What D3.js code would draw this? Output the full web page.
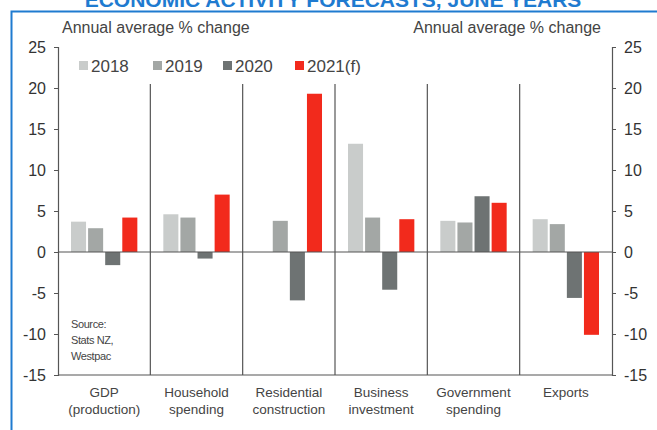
<!DOCTYPE html>
<html>
<head>
<meta charset="utf-8">
<script src="https://cdn.jsdelivr.net/npm/d3@7"></script>
<style>
  body { margin: 0; background: #fff; overflow: hidden; }
  text { font-family: "Liberation Sans", Arial, sans-serif; }
</style>
</head>
<body>
<div id="chart"></div>
<script>
let categories = [["GDP", "(production)"], ["Household", "spending"], ["Residential", "construction"],
    ["Business", "investment"], ["Government", "spending"], ["Exports"]];
let seriesNames = ['2018', '2019', '2020', '2021(f)'];
let seriesColors = ['#c9cccb', '#a3a7a5', '#6e7373', '#f22a1c'];
let values2018 = [3.7, 4.6, null, 13.2, 3.8, 4.0];
let values2019 = [2.9, 4.2, 3.8, 4.2, 3.6, 3.4];
let values2020 = [-1.6, -0.8, -5.9, -4.6, 6.8, -5.6];
let values2021 = [4.2, 7.0, 19.3, 4.0, 6.0, -10.1];
let yTicks = [-15, -10, -5, 0, 5, 10, 15, 20, 25];

let allValues = [values2018, values2019, values2020, values2021];

let totalWidth = 657;
let totalHeight = 430;
let margin = { top: 47, right: 45, bottom: 55, left: 58 };
let innerWidth = totalWidth - margin.left - margin.right;
let innerHeight = totalHeight - margin.top - margin.bottom;

let svg = d3.select("#chart").append("svg")
    .attr("width", totalWidth)
    .attr("height", totalHeight);

// blue frame and the title that is cut off at the top
svg.append("path")
    .attr("d", "M11.5,430 L11.5,11.5 L657,11.5")
    .attr("fill", "none")
    .attr("stroke", "#1f7bd0")
    .attr("stroke-width", 2);

svg.append("text")
    .attr("x", 333)
    .attr("y", 7)
    .attr("text-anchor", "middle")
    .style("font-size", "21px")
    .style("font-weight", "bold")
    .style("fill", "#1f7bd0")
    .text("ECONOMIC ACTIVITY FORECASTS, JUNE YEARS");

let g = svg.append("g")
    .attr("transform", "translate(" + margin.left + "," + margin.top + ")");

let x0 = d3.scaleBand()
    .domain(d3.range(categories.length))
    .range([0, innerWidth]);

let x1 = d3.scaleBand()
    .domain(seriesNames)
    .range([0, x0.bandwidth()])
    .paddingInner(0.12)
    .paddingOuter(0.76);

let y = d3.scaleLinear()
    .domain([-15, 25])
    .range([innerHeight, 0]);

// category separators
g.selectAll(".sep")
    .data(d3.range(1, categories.length))
    .enter().append("line")
    .attr("x1", d => x0(d))
    .attr("x2", d => x0(d))
    .attr("y1", y(20.5))
    .attr("y2", innerHeight)
    .attr("stroke", "#555")
    .attr("stroke-width", 1.2);

// bars
seriesNames.forEach(function(name, i) {
    let data = allValues[i].map((v, j) => ({ cat: j, value: v })).filter(d => d.value !== null);
    g.selectAll(".bar" + i)
        .data(data)
        .enter().append("rect")
        .attr("class", "bar" + i)
        .attr("x", d => x0(d.cat) + x1(name))
        .attr("width", x1.bandwidth())
        .attr("y", d => y(Math.max(0, d.value)))
        .attr("height", d => Math.abs(y(d.value) - y(0)))
        .attr("fill", seriesColors[i]);
});

// zero line and bottom line
[0, -15].forEach(function(v) {
    g.append("line")
        .attr("x1", 0).attr("x2", innerWidth)
        .attr("y1", y(v)).attr("y2", y(v))
        .attr("stroke", "#555")
        .attr("stroke-width", 1.2);
});

// axes
let leftAxis = g.append("g")
    .call(d3.axisLeft(y).tickValues(yTicks).tickFormat(d => String(d)).tickSize(4).tickPadding(8));
let rightAxis = g.append("g")
    .attr("transform", "translate(" + innerWidth + ",0)")
    .call(d3.axisRight(y).tickValues(yTicks).tickFormat(d => String(d)).tickSize(4).tickPadding(8));

[leftAxis, rightAxis].forEach(function(ax) {
    ax.select(".domain").attr("stroke", "#555").attr("stroke-width", 1.2);
    ax.selectAll(".tick line").attr("stroke", "#555");
    ax.selectAll(".tick text")
        .style("font-size", "16px")
        .style("fill", "#333")
        .style("font-family", "'Liberation Sans', Arial, sans-serif");
});

// category labels
categories.forEach(function(lines, i) {
    let t = g.append("text")
        .attr("x", x0(i) + x0.bandwidth() / 2)
        .attr("y", innerHeight + 22)
        .attr("text-anchor", "middle")
        .style("font-size", "13.5px")
        .style("fill", "#444");
    lines.forEach(function(line, k) {
        t.append("tspan")
            .attr("x", x0(i) + x0.bandwidth() / 2)
            .attr("dy", k === 0 ? 0 : 17)
            .text(line);
    });
});

// axis titles
svg.append("text")
    .attr("x", 62).attr("y", 33)
    .style("font-size", "16px").style("fill", "#444")
    .text("Annual average % change");
svg.append("text")
    .attr("x", 601).attr("y", 33)
    .attr("text-anchor", "end")
    .style("font-size", "16px").style("fill", "#444")
    .text("Annual average % change");

// legend
let legendX = [79, 153, 223, 295];
seriesNames.forEach(function(name, i) {
    svg.append("rect")
        .attr("x", legendX[i]).attr("y", 61)
        .attr("width", 9).attr("height", 9)
        .attr("fill", seriesColors[i]);
    svg.append("text")
        .attr("x", legendX[i] + 12).attr("y", 72)
        .style("font-size", "17px").style("fill", "#444")
        .text(name);
});

// source note
let source = ["Source:", "Stats NZ,", "Westpac"];
source.forEach(function(line, k) {
    svg.append("text")
        .attr("x", 71).attr("y", 328 + k * 16)
        .style("font-size", "11px").style("fill", "#444")
        .style("letter-spacing", "-0.4px")
        .text(line);
});
</script>
</body>
</html>
